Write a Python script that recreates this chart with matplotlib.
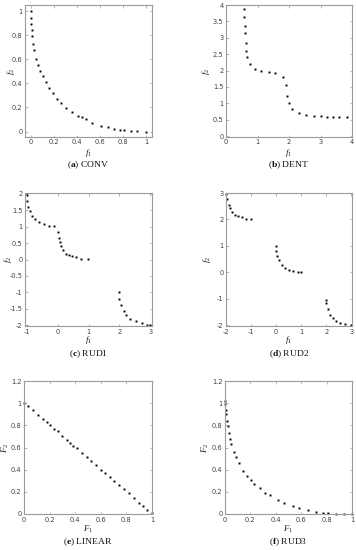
import matplotlib
matplotlib.use("Agg")
import matplotlib.pyplot as plt

plt.rcParams['mathtext.fontset'] = 'custom'
plt.rcParams['mathtext.rm'] = 'Liberation Serif'
plt.rcParams['mathtext.it'] = 'Liberation Serif:italic'
plt.rcParams['mathtext.bf'] = 'Liberation Serif:bold'

# ---- data ----
conv_f1 = [0, 0, 0.003, 0.009, 0.012, 0.02, 0.029, 0.046, 0.066, 0.084, 0.107, 0.13, 0.162,
           0.19, 0.23, 0.266, 0.306, 0.355, 0.405, 0.442, 0.48, 0.532, 0.607, 0.665, 0.725,
           0.769, 0.81, 0.87, 0.922, 1.0]
conv_f2 = [1.0, 0.945, 0.89, 0.84, 0.79, 0.73, 0.675, 0.606, 0.55, 0.504, 0.46, 0.41, 0.36,
           0.317, 0.27, 0.234, 0.198, 0.165, 0.132, 0.121, 0.105, 0.074, 0.05, 0.039, 0.025,
           0.017, 0.011, 0.006, 0.003, 0.0]

dent_f1 = [0.573, 0.584, 0.594, 0.605, 0.626, 0.647, 0.679, 0.753, 0.934, 1.10, 1.35, 1.56,
           1.81, 1.92, 1.95, 1.99, 2.11, 2.31, 2.54, 2.79, 3.00, 3.20, 3.41, 3.60, 3.85]
dent_f2 = [3.89, 3.62, 3.37, 3.14, 2.85, 2.59, 2.40, 2.20, 2.04, 1.99, 1.96, 1.93,
           1.80, 1.56, 1.23, 1.01, 0.83, 0.71, 0.65, 0.62, 0.61, 0.59, 0.59, 0.58, 0.58]

rud1_f1 = [-1.0, -0.98, -0.94, -0.89, -0.81, -0.72, -0.59, -0.44, -0.29, -0.10,
           0.005, 0.04, 0.07, 0.11, 0.19, 0.28, 0.38, 0.48, 0.61, 0.76, 0.98,
           1.99, 2.0, 2.05, 2.14, 2.22, 2.34, 2.52, 2.73, 2.89, 3.0]
rud1_f2 = [1.98, 1.78, 1.60, 1.48, 1.33, 1.23, 1.13, 1.07, 1.03, 1.01,
           0.83, 0.65, 0.52, 0.40, 0.29, 0.18, 0.14, 0.10, 0.07, 0.03, 0.01,
           -0.99, -1.21, -1.38, -1.57, -1.68, -1.81, -1.89, -1.95, -1.99, -2.0]

rud2_f1 = [-1.99, -1.96, -1.90, -1.83, -1.75, -1.65, -1.53, -1.38, -1.22, -1.02,
           0.0, 0.01, 0.04, 0.10, 0.22, 0.37, 0.53, 0.69, 0.86, 1.01,
           1.99, 2.0, 2.06, 2.15, 2.26, 2.39, 2.56, 2.74, 3.0]
rud2_f2 = [2.96, 2.77, 2.56, 2.42, 2.30, 2.18, 2.13, 2.08, 2.03, 2.00,
           0.99, 0.80, 0.61, 0.45, 0.29, 0.16, 0.07, 0.04, 0.02, 0.0,
           -1.04, -1.17, -1.40, -1.60, -1.74, -1.85, -1.90, -1.96, -2.0]

lin_f1 = [0.0, 0.034, 0.068, 0.113, 0.149, 0.178, 0.202, 0.238, 0.264, 0.30, 0.335, 0.361,
          0.385, 0.414, 0.45, 0.492, 0.526, 0.565, 0.60, 0.636, 0.668, 0.70, 0.74, 0.78,
          0.817, 0.856, 0.895, 0.927, 0.963, 0.997]
lin_f2 = [1.0, 0.976, 0.94, 0.894, 0.857, 0.83, 0.80, 0.769, 0.745, 0.705, 0.669, 0.638,
          0.617, 0.593, 0.553, 0.514, 0.477, 0.438, 0.40, 0.368, 0.337, 0.30, 0.264, 0.222,
          0.188, 0.146, 0.10, 0.07, 0.036, 0.006]

rud3_f1 = [0.003, 0.003, 0.005, 0.008, 0.013, 0.021, 0.029, 0.039, 0.05, 0.068, 0.086, 0.11,
           0.144, 0.175, 0.201, 0.232, 0.274, 0.316, 0.352, 0.415, 0.467, 0.535, 0.585,
           0.655, 0.72, 0.773, 0.812, 0.877, 0.935, 0.997]
rud3_f2 = [1.02, 0.99, 0.94, 0.90, 0.84, 0.79, 0.735, 0.678, 0.63, 0.562, 0.517, 0.462,
           0.392, 0.347, 0.307, 0.274, 0.231, 0.191, 0.167, 0.128, 0.10, 0.07, 0.052,
           0.033, 0.021, 0.012, 0.009, 0.003, 0.0, 0.0]

W, H = 356, 550

panels = [
    # data, box px (l, r, t, b), limits, ticks, labels, label positions px (ylabel x, xlabel y), caption
    (conv_f1, conv_f2, (25, 152, 5, 137), (-0.05, 1.05), (-0.045, 1.05),
     [0, 0.2, 0.4, 0.6, 0.8, 1], [0, 0.2, 0.4, 0.6, 0.8, 1],
     ['0', '0.2', '0.4', '0.6', '0.8', '1'], ['0', '0.2', '0.4', '0.6', '0.8', '1'],
     r'$f_1$', r'$f_2$', 11, 153, 'a', 'CONV'),
    (dent_f1, dent_f2, (226, 352, 5, 137), (0, 4), (-0.03, 4),
     [0, 1, 2, 3, 4], [0, 0.5, 1, 1.5, 2, 2.5, 3, 3.5, 4],
     ['0', '1', '2', '3', '4'], ['0', '0.5', '1', '1.5', '2', '2.5', '3', '3.5', '4'],
     r'$f_1$', r'$f_2$', 206, 153, 'b', 'DENT'),
    (rud1_f1, rud1_f2, (25, 152, 193, 326), (-1.05, 3.05), (-2.03, 2.03),
     [-1, 0, 1, 2, 3], [-2, -1.5, -1, -0.5, 0, 0.5, 1, 1.5, 2],
     ['-1', '0', '1', '2', '3'], ['-2', '-1.5', '-1', '-0.5', '0', '0.5', '1', '1.5', '2'],
     r'$f_1$', r'$f_2$', 8, 340, 'c', 'RUD1'),
    (rud2_f1, rud2_f2, (226, 352, 193, 326), (-2.0, 3.03), (-2.03, 3.0),
     [-2, -1, 0, 1, 2, 3], [-2, -1, 0, 1, 2, 3],
     ['-2', '-1', '0', '1', '2', '3'], ['-2', '-1', '0', '1', '2', '3'],
     r'$f_1$', r'$f_2$', 207, 340, 'd', 'RUD2'),
    (lin_f1, lin_f2, (24, 152, 381, 514), (0, 1), (0, 1.2),
     [0, 0.2, 0.4, 0.6, 0.8, 1], [0, 0.2, 0.4, 0.6, 0.8, 1, 1.2],
     ['0', '0.2', '0.4', '0.6', '0.8', '1'], ['0', '0.2', '0.4', '0.6', '0.8', '1', '1.2'],
     r'$F_1$', r'$F_2$', 5.5, 529, 'e', 'LINEAR'),
    (rud3_f1, rud3_f2, (225, 352, 381, 514), (0, 1), (0, 1.2),
     [0, 0.2, 0.4, 0.6, 0.8, 1], [0, 0.2, 0.4, 0.6, 0.8, 1, 1.2],
     ['0', '0.2', '0.4', '0.6', '0.8', '1'], ['0', '0.2', '0.4', '0.6', '0.8', '1', '1.2'],
     r'$F_1$', r'$F_2$', 205, 529, 'f', 'RUD3'),
]

fig = plt.figure(figsize=(W / 100, H / 100), dpi=100)
fig.patch.set_facecolor('white')

for (xs, ys, (l, r, t, b), xlim, ylim, xt, yt, xtl, ytl, xl, yl, ylx, xly,
     letter, name) in panels:
    ax = fig.add_axes([l / W, 1 - b / H, (r - l) / W, (b - t) / H])
    ax.plot(xs, ys, linestyle='none', marker='s', markersize=1.4, color='black',
            markeredgewidth=0, clip_on=False)
    ax.set_xlim(*xlim)
    ax.set_ylim(*ylim)
    ax.set_xticks(xt)
    ax.set_yticks(yt)
    ax.set_xticklabels(xtl)
    ax.set_yticklabels(ytl)
    for s in ax.spines.values():
        s.set_color('#9a9a9a')
        s.set_linewidth(0.8)
    ax.tick_params(direction='in', length=1.8, width=0.5, colors='#9a9a9a',
                   labelcolor='#404040', labelsize=4.8, pad=1.8,
                   top=True, right=True)
    ax.set_xlabel(xl, fontsize=6.5, color='#202020', va='center')
    ax.set_ylabel(yl, fontsize=6.5, color='#202020', va='center')
    ax.xaxis.set_label_coords(0.5, -(xly - b) / (b - t))
    ax.yaxis.set_label_coords((ylx - l) / (r - l), 0.5)
    cx = (l + r) / 2 / W
    cy = 1 - (b + 28) / H
    fig.text(cx, cy, r'($\mathbf{' + letter + r'}$) ' + name, ha='center', va='center',
             fontsize=6.8, family='Liberation Serif', color='#111111')

fig.savefig('out.png', dpi=100)
